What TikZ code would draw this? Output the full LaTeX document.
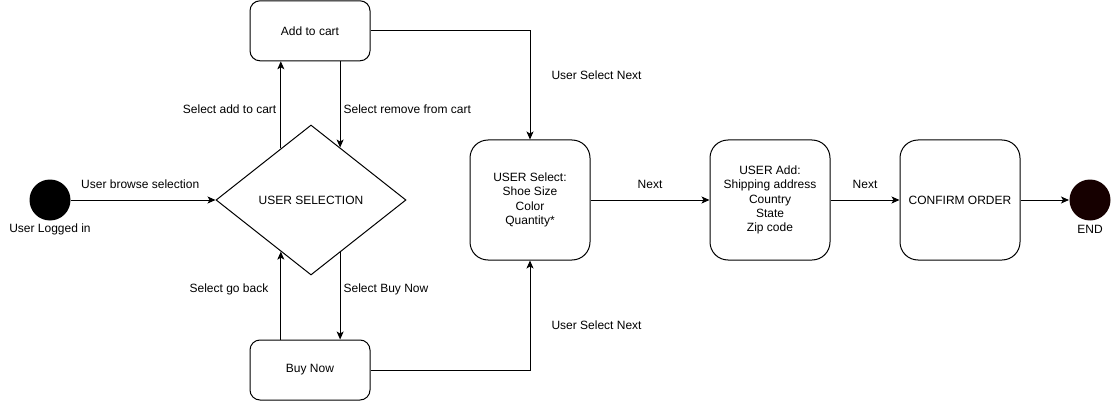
\documentclass[tikz,border=0pt]{standalone}
\usepackage{fontspec}
\setmainfont{Liberation Sans}
\usetikzlibrary{arrows.meta,shapes.geometric,calc}
\definecolor{endc}{RGB}{22,0,0}
\begin{document}
\begin{tikzpicture}[x=1pt,y=-1pt,line width=1pt,
  font=\fontsize{12}{14.4}\selectfont,
  box/.style={draw,rounded corners=10pt,minimum width=120pt,minimum height=60pt,align=center,inner sep=0pt},
  bigbox/.style={box,minimum height=120pt,rounded corners=18pt},
  arr/.style={-{Stealth[length=8pt,width=7pt,inset=2pt]}},
  lbl/.style={inner sep=0pt},
  dot/.style={circle,inner sep=0pt,minimum size=41pt}]
\useasboundingbox (0,0) rectangle (1116,401);
% nodes
\node[dot,fill=black] (start) at (50,200) {};
\node[lbl] (startlbl) at (50,229) {User Logged in};
\node[diamond,draw,minimum width=190pt,minimum height=150pt,inner sep=0pt] (dia) at (311,200) {USER SELECTION};
\node[box] (cart) at (310,30.8) {Add to cart};
\node[box] (buy) at (310,370) {Buy Now};
\node[bigbox] (sel) at (530,200) {USER Select:\\Shoe Size\\Color\\Quantity*};
\node[bigbox] (add) at (770,200) {USER Add:\\Shipping address\\Country\\State\\Zip code};
\node[bigbox] (conf) at (960,200) {CONFIRM ORDER};
\node[dot,fill=endc] (end) at (1090,200) {};
\node[lbl] (endlbl) at (1090,229) {END};
% diamond contact points
\coordinate (p1) at ($(dia.west)!0.684!(dia.north)$);
\coordinate (p2) at ($(dia.north)!0.305!(dia.east)$);
\coordinate (p3) at ($(dia.west)!0.684!(dia.south)$);
\coordinate (p4) at ($(dia.south)!0.305!(dia.east)$);
% connectors
\draw[arr] (start) -- node[lbl,midway,yshift=16pt,xshift=-3pt] {User browse selection} (dia.west);
\draw[arr] (p1) -- node[lbl,pos=0.45,anchor=east,xshift=-4pt] {Select add to cart} (p1 |- cart.south);
\draw[arr] (p2 |- cart.south) -- node[lbl,pos=0.55,anchor=west,xshift=3pt] {Select remove from cart} (p2);
\draw[arr] (p3 |- buy.north) -- node[lbl,pos=0.575,anchor=east,xshift=-12pt] {Select go back} (p3);
\draw[arr] (p4) -- node[lbl,pos=0.42,anchor=west,xshift=3pt] {Select Buy Now} (p4 |- buy.north);
\draw[arr] (cart.east) -| node[lbl,pos=0.705,anchor=west,xshift=21pt] {User Select Next} (sel.north);
\draw[arr] (buy.east) -| node[lbl,pos=0.705,anchor=west,xshift=21pt] {User Select Next} (sel.south);
\draw[arr] (sel.east) -- node[lbl,midway,yshift=16pt] {Next} (add.west);
\draw[arr] (add.east) -- node[lbl,midway,yshift=16pt] {Next} (conf.west);
\draw[arr] (conf.east) -- (end.west);
\end{tikzpicture}
\end{document}
